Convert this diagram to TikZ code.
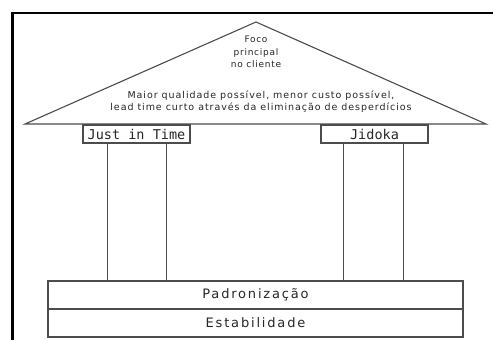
\documentclass[tikz,border=0pt]{standalone}
\usepackage{fontspec}
\setmainfont{DejaVu Sans}
\newfontfamily\monofont{DejaVu Sans Mono}
\newfontfamily\basefont[LetterSpace=14]{DejaVu Sans}
\newfontfamily\smallfont[LetterSpace=10]{DejaVu Sans}
\newfontfamily\midfont[LetterSpace=8]{DejaVu Sans}
\begin{document}
\begin{tikzpicture}[x=1pt,y=-1pt,
  part/.style={draw=black!70,line width=1.1pt},
  boxnode/.style={part,rectangle,inner sep=0pt,minimum width=107pt,minimum height=18pt,
    font=\monofont\fontsize{13.5}{14}\selectfont,text=black!85},
  basenode/.style={part,rectangle,inner sep=0pt,minimum width=415pt,minimum height=28pt,
    font=\basefont\fontsize{13}{14}\selectfont,text=black!85},
  roofnode/.style={inner sep=0pt,text=black!85,align=center}]
\useasboundingbox (0,0) rectangle (493,340);
\clip (0,0) rectangle (493,340);
\fill[white] (0,0) rectangle (493,340);
% outer frame
\draw[line width=2.4pt,black] (12.5,360) -- (12.5,13) -- (520,13);
% roof
\coordinate (apex) at (256,22);
\coordinate (rl) at (25,124);
\coordinate (rr) at (486,124);
\draw[part,line join=miter] (rl) -- (apex) -- (rr) -- cycle;
\node[roofnode,font=\midfont\fontsize{9}{12.5}\selectfont] (foco) at (256,52) {Foco\\principal\\no cliente};
\node[roofnode,font=\smallfont\fontsize{9.5}{12}\selectfont] (meta) at (261,102) {Maior qualidade possível, menor custo possível,\\lead time curto através da eliminação de desperdícios};
% pillar heads
\node[boxnode] (jit) at (136.5,134) {Just in Time};
\node[boxnode] (jid) at (374.5,134) {Jidoka};
% base
\node[basenode] (padr) at (255.5,295) {Padronização};
\node[basenode] (estab) at (255.5,323) {Estabilidade};
% pillars
\draw[part] (jit.south west) ++(25,0) coordinate (a1) -- (a1 |- padr.north);
\draw[part] (jit.south west) ++(84,0) coordinate (a2) -- (a2 |- padr.north);
\draw[part] (jid.south west) ++(23,0) coordinate (b1) -- (b1 |- padr.north);
\draw[part] (jid.south west) ++(83,0) coordinate (b2) -- (b2 |- padr.north);
\end{tikzpicture}
\end{document}
